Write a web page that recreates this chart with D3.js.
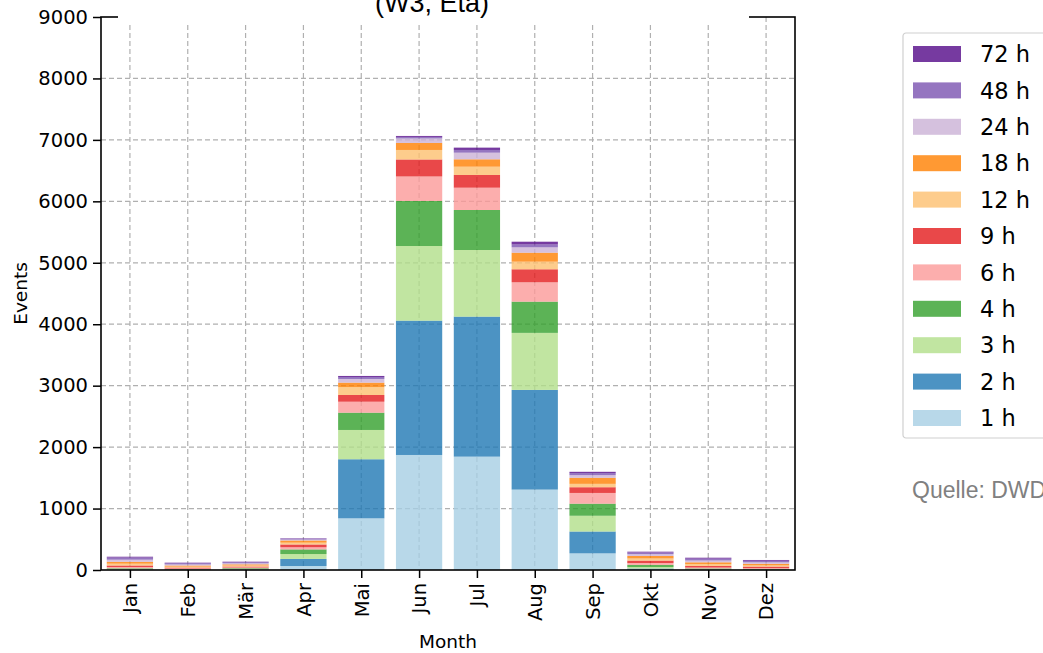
<!DOCTYPE html>
<html>
<head>
<meta charset="utf-8">
<script src="https://cdn.jsdelivr.net/npm/d3@7"></script>
<style>
  body { margin: 0; background: #fff; }
  svg { display: block; }
</style>
</head>
<body>
<div id="chart"></div>
<script>
var svgWidth = 1043;
var svgHeight = 653;

// data
var months = ["Jan", "Feb", "Mär", "Apr", "Mai", "Jun", "Jul", "Aug", "Sep", "Okt", "Nov", "Dez"];
var durations = ["1 h", "2 h", "3 h", "4 h", "6 h", "9 h", "12 h", "18 h", "24 h", "48 h", "72 h"];
var h1  = [4, 2, 3, 65, 841, 1872, 1845, 1309, 271, 8, 3, 2];
var h2  = [6, 3, 5, 115, 961, 2186, 2278, 1622, 355, 15, 5, 3];
var h3  = [8, 4, 8, 80, 477, 1215, 1085, 928, 257, 25, 7, 5];
var h4  = [10, 6, 12, 75, 281, 733, 651, 508, 196, 35, 10, 8];
var h6  = [20, 10, 14, 35, 179, 399, 363, 316, 175, 30, 15, 12];
var h9  = [25, 14, 14, 45, 109, 276, 207, 211, 93, 40, 25, 25];
var h12 = [30, 16, 18, 30, 130, 155, 135, 124, 55, 35, 30, 20];
var h18 = [30, 18, 18, 35, 71, 114, 120, 146, 98, 40, 30, 25];
var h24 = [35, 18, 18, 15, 60, 73, 108, 88, 44, 30, 30, 25];
var h48 = [35, 20, 18, 15, 32, 25, 44, 46, 34, 28, 30, 25];
var h72 = [13, 8, 7, 6, 17, 16, 38, 45, 20, 12, 15, 13];
var yTicks = [0, 1000, 2000, 3000, 4000, 5000, 6000, 7000, 8000, 9000];
var colors = ["#a6cee3", "#1f78b4", "#b2df8a", "#33a02c", "#fb9a99", "#e31a1c",
              "#fdbf6f", "#ff7f00", "#cab2d6", "#7a52b0", "#540988"];

var series = [h1, h2, h3, h4, h6, h9, h12, h18, h24, h48, h72];
var rows = months.map(function(m, i) {
    var r = { month: m };
    durations.forEach(function(d, k) { r[d] = series[k][i]; });
    return r;
});

var margin = { top: 17, right: 248, bottom: 83, left: 101 };
var width = svgWidth - margin.left - margin.right;
var height = svgHeight - margin.top - margin.bottom;

var svg = d3.select("#chart")
    .append("svg")
    .attr("width", svgWidth)
    .attr("height", svgHeight)
    .style("font-family", "'DejaVu Sans', sans-serif");

var chartGroup = svg.append("g")
    .attr("transform", `translate(${margin.left},${margin.top})`);

var xScale = d3.scaleLinear().domain([-0.5, 11.5]).range([0, width]);
var yScale = d3.scaleLinear().domain([0, 9000]).range([height, 0]);
var step = xScale(1) - xScale(0);
var barW = step * 0.8;

// grid
chartGroup.append("g")
    .selectAll("line.gy")
    .data(yTicks.slice(1, -1))
    .enter().append("line")
    .attr("x1", 0).attr("x2", width)
    .attr("y1", d => yScale(d)).attr("y2", d => yScale(d))
    .attr("stroke", "#b0b0b0").attr("stroke-width", 1.2)
    .attr("stroke-dasharray", "5,3");
chartGroup.append("g")
    .selectAll("line.gx")
    .data(months)
    .enter().append("line")
    .attr("x1", (d, i) => xScale(i)).attr("x2", (d, i) => xScale(i))
    .attr("y1", 0).attr("y2", height)
    .attr("stroke", "#b0b0b0").attr("stroke-width", 1.2)
    .attr("stroke-dasharray", "5,3");

// stacked bars
var stacked = d3.stack().keys(durations)(rows);
chartGroup.selectAll("g.layer")
    .data(stacked)
    .enter().append("g")
    .attr("fill", (d, k) => colors[k])
    .attr("fill-opacity", 0.8)
    .selectAll("rect")
    .data(d => d)
    .enter().append("rect")
    .attr("x", (d, i) => xScale(i) - barW / 2)
    .attr("width", barW)
    .attr("y", d => yScale(d[1]))
    .attr("height", d => yScale(d[0]) - yScale(d[1]));

// axes
var leftAxis = d3.axisLeft(yScale).tickValues(yTicks).tickFormat(d3.format("d"))
    .tickSize(8).tickPadding(5);
var bottomAxis = d3.axisBottom(xScale).tickValues(d3.range(12))
    .tickFormat(i => months[i]).tickSize(8).tickPadding(5);

var yAxis = chartGroup.append("g").call(leftAxis);
yAxis.select(".domain").remove();
yAxis.selectAll("line").attr("stroke", "#000").attr("stroke-width", 1.5);
yAxis.selectAll("text").attr("font-size", 19.5).attr("fill", "#000")
    .style("font-family", "'DejaVu Sans', sans-serif");

var xAxis = chartGroup.append("g")
    .attr("transform", `translate(0,${height})`)
    .call(bottomAxis);
xAxis.select(".domain").remove();
xAxis.selectAll("line").attr("stroke", "#000").attr("stroke-width", 1.5);
xAxis.selectAll("text")
    .attr("font-size", 19.5).attr("fill", "#000")
    .style("font-family", "'DejaVu Sans', sans-serif")
    .attr("text-anchor", "end")
    .attr("dy", "0.35em")
    .attr("transform", "rotate(-90)")
    .attr("x", -13).attr("y", 0);

// frame
chartGroup.append("rect")
    .attr("width", width).attr("height", height)
    .attr("fill", "none").attr("stroke", "#000").attr("stroke-width", 1.6);

// axis labels
svg.append("text")
    .attr("x", margin.left + width / 2).attr("y", 648)
    .attr("text-anchor", "middle").attr("font-size", 18.5)
    .text("Month");
svg.append("text")
    .attr("transform", `translate(27,${margin.top + height / 2}) rotate(-90)`)
    .attr("text-anchor", "middle").attr("font-size", 18.5)
    .text("Events");

// title (cut at the top of the picture, on a white box)
svg.append("rect")
    .attr("x", 118).attr("y", 0).attr("width", 631).attr("height", 23)
    .attr("fill", "#fff");
svg.append("text")
    .attr("x", 432).attr("y", 12)
    .attr("text-anchor", "middle")
    .attr("font-size", 27)
    .style("font-family", "'Liberation Sans', Arial, sans-serif")
    .text("(W3, Eta)");

// legend
var legend = svg.append("g").attr("transform", "translate(903,33)");
legend.append("rect")
    .attr("x", 0).attr("y", 0).attr("width", 160).attr("height", 405)
    .attr("rx", 3)
    .attr("fill", "#fff").attr("stroke", "#d0d0d0").attr("stroke-width", 1.2);
var legendOrder = durations.slice().reverse();
var entry = legend.selectAll("g.entry")
    .data(legendOrder)
    .enter().append("g")
    .attr("transform", (d, i) => `translate(0,${21 + i * 36.4})`);
entry.append("rect")
    .attr("x", 10).attr("y", -8).attr("width", 48).attr("height", 16)
    .attr("fill", d => colors[durations.indexOf(d)])
    .attr("fill-opacity", 0.8);
entry.append("text")
    .attr("x", 77).attr("y", 0).attr("dy", "0.36em")
    .attr("font-size", 22.5)
    .text(d => d);

// source note
svg.append("text")
    .attr("x", 912).attr("y", 498)
    .attr("font-size", 23)
    .attr("fill", "#808080")
    .style("font-family", "'Liberation Sans', Arial, sans-serif")
    .text("Quelle: DWD");
</script>
</body>
</html>
